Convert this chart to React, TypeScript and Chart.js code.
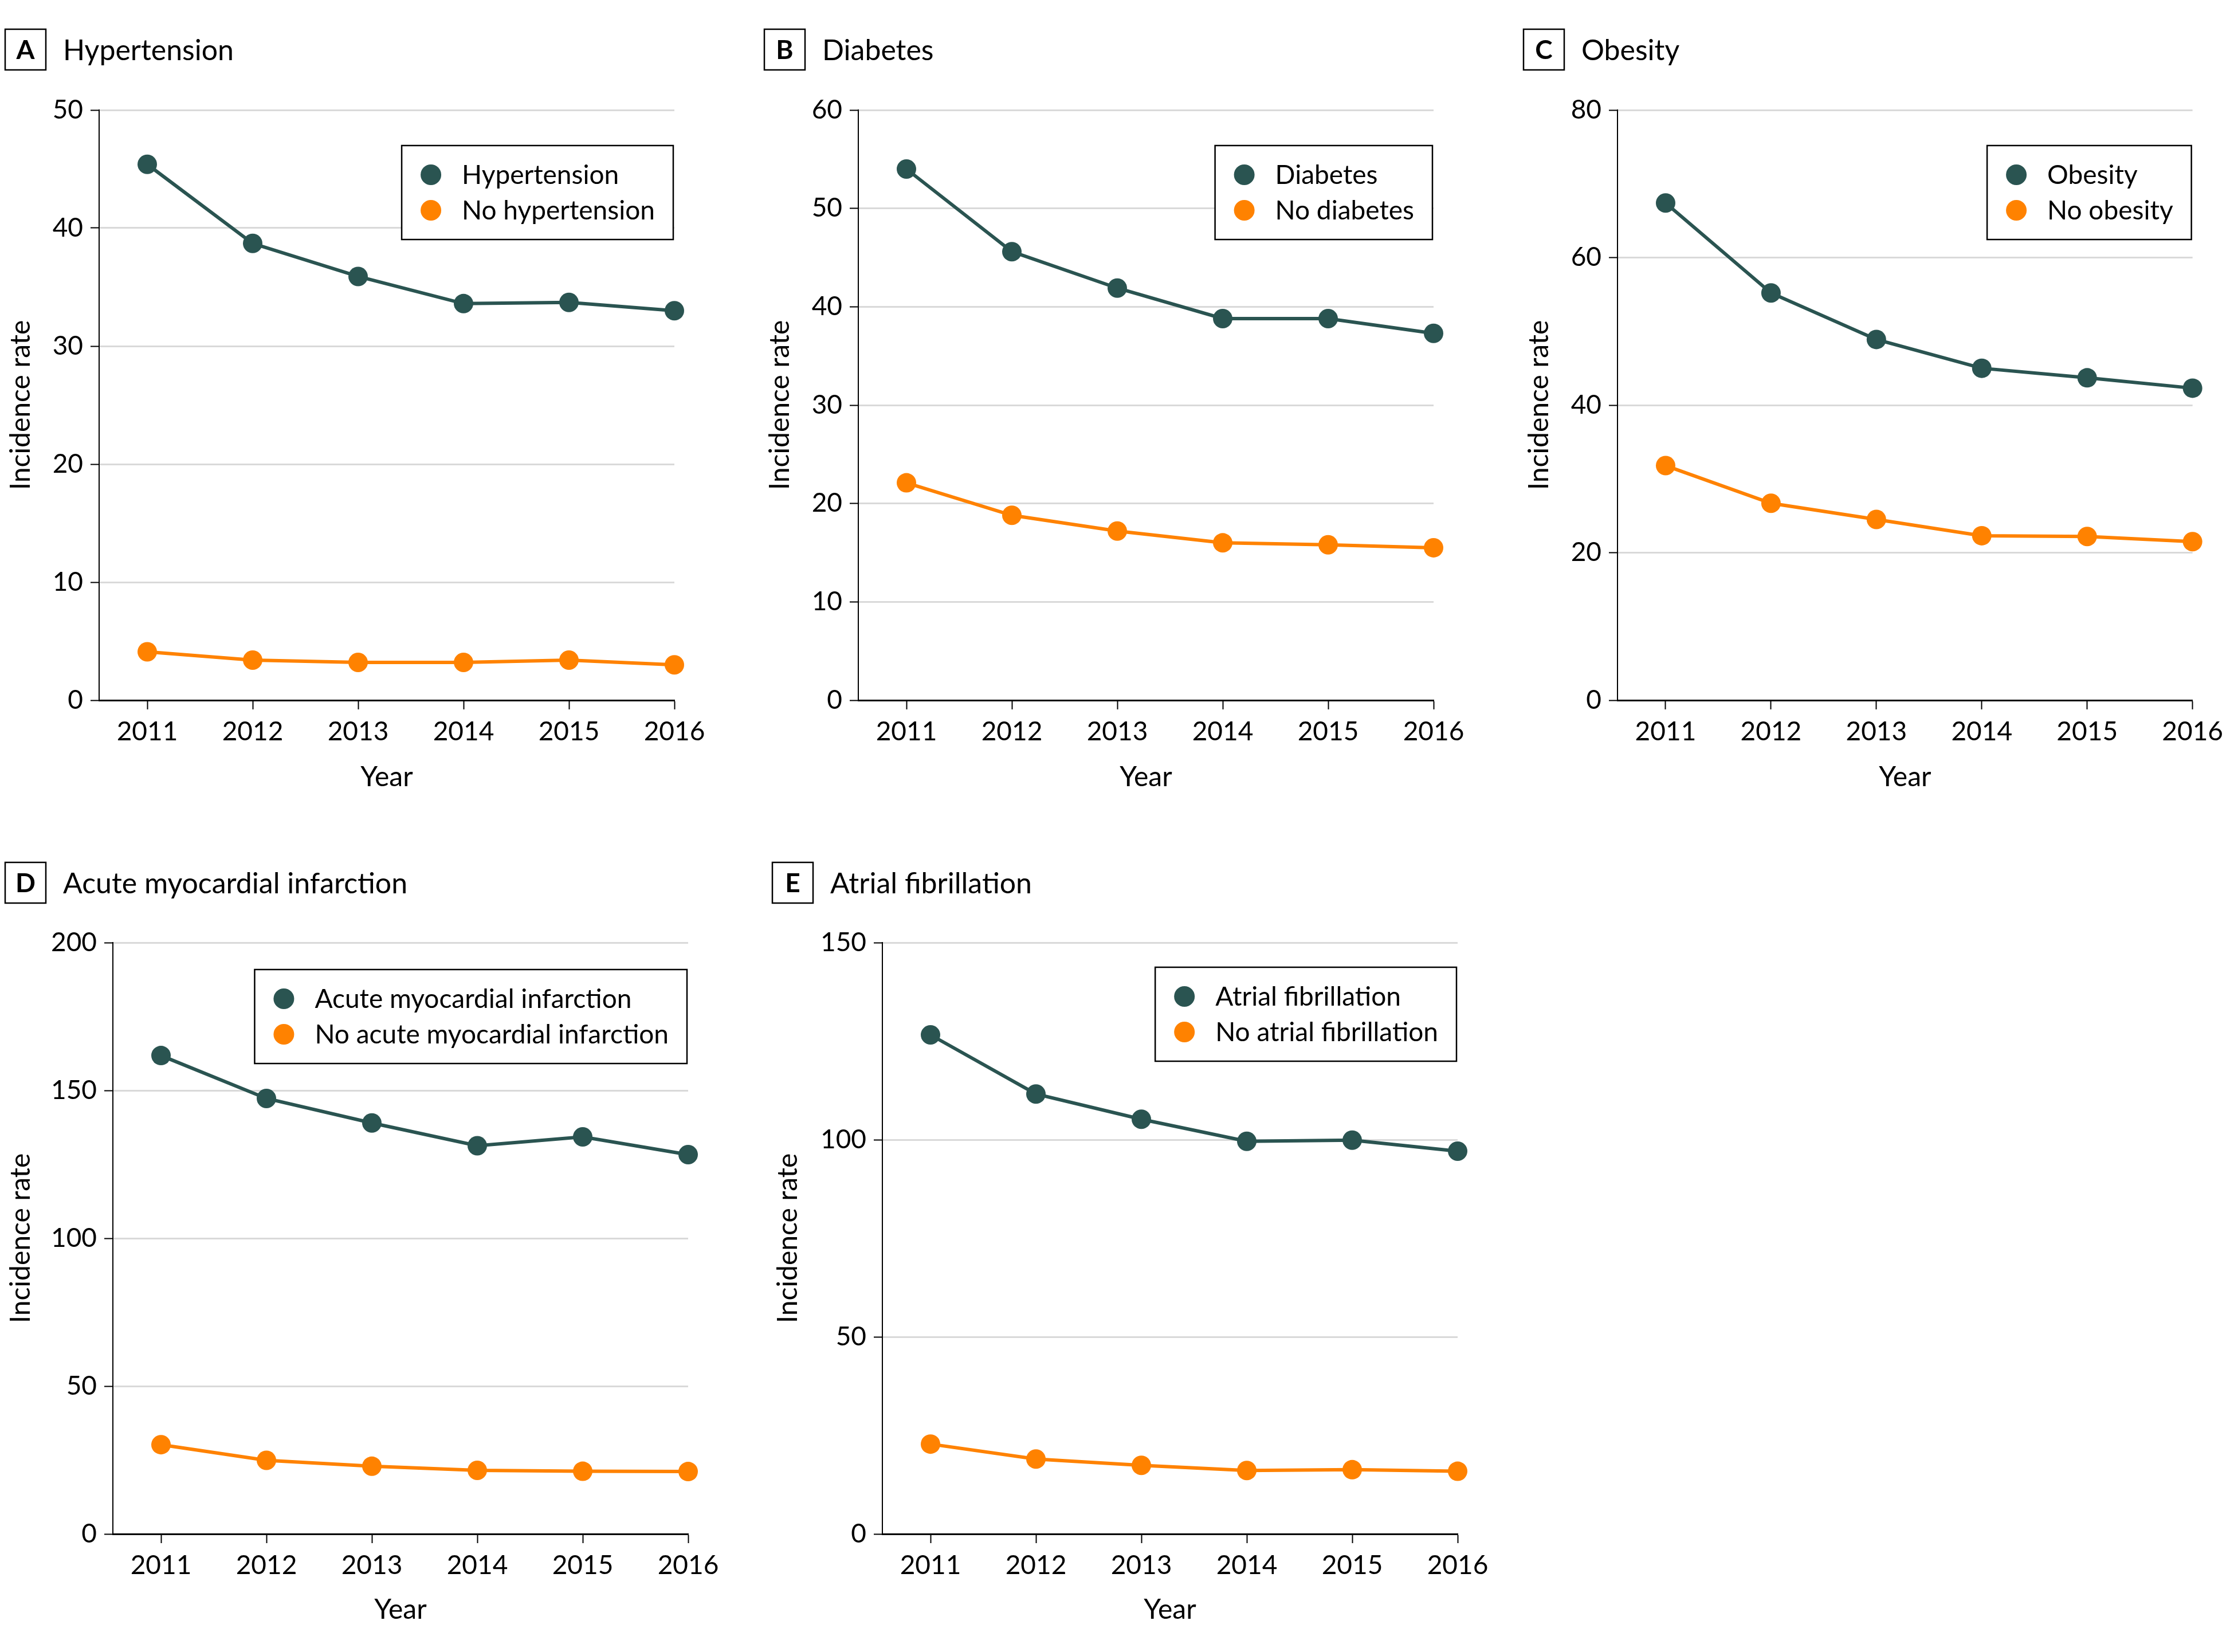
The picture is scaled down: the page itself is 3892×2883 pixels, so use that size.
import React, { useEffect, useRef } from 'react';
import { Chart, registerables } from 'chart.js';

Chart.register(...registerables);

// ---------- data ----------
const years = [2011, 2012, 2013, 2014, 2015, 2016];

const hypertension = [45.4, 38.7, 35.9, 33.6, 33.7, 33.0];
const noHypertension = [4.1, 3.4, 3.2, 3.2, 3.4, 3.0];

const diabetes = [54.0, 45.6, 41.9, 38.8, 38.8, 37.3];
const noDiabetes = [22.1, 18.8, 17.2, 16.0, 15.8, 15.5];

const obesity = [67.4, 55.2, 48.9, 45.0, 43.7, 42.3];
const noObesity = [31.8, 26.7, 24.5, 22.3, 22.2, 21.5];

const ami = [161.8, 147.3, 139.0, 131.3, 134.3, 128.3];
const noAmi = [30.2, 24.9, 22.9, 21.5, 21.2, 21.1];

const af = [126.6, 111.6, 105.2, 99.6, 99.9, 97.1];
const noAf = [22.8, 19.0, 17.4, 16.1, 16.3, 15.9];

const yTicksA = [0, 10, 20, 30, 40, 50];
const yTicksB = [0, 10, 20, 30, 40, 50, 60];
const yTicksC = [0, 20, 40, 60, 80];
const yTicksD = [0, 50, 100, 150, 200];
const yTicksE = [0, 50, 100, 150];

const xTitle = 'Year';
const yTitle = 'Incidence rate';

// ---------- style ----------
const FONT = 'Lato, "Noto Sans", sans-serif';
const DARK = '#2a5451';
const ORANGE = '#ff8200';
const GRID = '#d9d9d9';
const TICK_SIZE = 46;
const AXIS_TITLE_SIZE = 48;
const PLOT_W = 1004;
const X_MIN = 2011 - 84 / 184;

const decorPlugin = {
  id: 'panelDecor',
  afterDraw(chart: any, _args: any, opts: any) {
    const ctx = chart.ctx as CanvasRenderingContext2D;
    const ca = chart.chartArea;
    ctx.save();
    // header box + letter
    ctx.strokeStyle = '#000';
    ctx.lineWidth = 2.5;
    ctx.strokeRect(9, 51, 71, 71);
    ctx.fillStyle = '#000';
    ctx.font = `bold 46px ${FONT}`;
    ctx.textAlign = 'center';
    ctx.textBaseline = 'alphabetic';
    ctx.fillText(opts.letter, 44.5, 103);
    // title
    ctx.font = `50px ${FONT}`;
    ctx.textAlign = 'left';
    ctx.fillText(opts.title, 110, 105);

    // legend box
    const ds = chart.data.datasets;
    ctx.font = `${TICK_SIZE}px ${FONT}`;
    const tw = Math.max(...ds.map((d: any) => ctx.measureText(d.label).width));
    const boxW = 105 + tw + 32;
    const boxH = 164;
    const right = ca.right - 2;
    const left = right - boxW;
    const top = ca.top + opts.legendDy;
    ctx.fillStyle = '#fff';
    ctx.fillRect(left, top, boxW, boxH);
    ctx.strokeStyle = '#000';
    ctx.lineWidth = 2.5;
    ctx.strokeRect(left, top, boxW, boxH);
    ds.forEach((d: any, i: number) => {
      const cy = top + 51 + i * 62;
      ctx.beginPath();
      ctx.arc(left + 51, cy, 18, 0, Math.PI * 2);
      ctx.fillStyle = d.borderColor;
      ctx.fill();
      ctx.fillStyle = '#000';
      ctx.textBaseline = 'alphabetic';
      ctx.textAlign = 'left';
      ctx.fillText(d.label, left + 105, cy + 16);
    });
    ctx.restore();
  },
};

type PanelProps = {
  letter: string;
  title: string;
  labels: [string, string];
  series: [number[], number[]];
  yTicks: number[];
  left: number;
  top: number;
  width: number;
  height: number;
  yW: number;
  plotTop: number;
  plotBottom: number;
  legendDy: number;
  xTitleY: number;
};

function Panel(p: PanelProps) {
  const ref = useRef<HTMLCanvasElement | null>(null);
  useEffect(() => {
    if (!ref.current) return;
    const lh = AXIS_TITLE_SIZE * 1.2;
    const yMax = p.yTicks[p.yTicks.length - 1];
    const chart = new Chart(ref.current, {
      type: 'line',
      data: {
        datasets: [
          {
            label: p.labels[0],
            data: years.map((y, i) => ({ x: y, y: p.series[0][i] })),
            borderColor: DARK,
            backgroundColor: DARK,
            borderWidth: 6,
            pointRadius: 17,
            pointBorderWidth: 0,
            pointBackgroundColor: DARK,
            tension: 0,
            clip: false as any,
          },
          {
            label: p.labels[1],
            data: years.map((y, i) => ({ x: y, y: p.series[1][i] })),
            borderColor: ORANGE,
            backgroundColor: ORANGE,
            borderWidth: 6,
            pointRadius: 17,
            pointBorderWidth: 0,
            pointBackgroundColor: ORANGE,
            tension: 0,
            clip: false as any,
          },
        ],
      },
      options: {
        animation: false,
        responsive: true,
        maintainAspectRatio: false,
        devicePixelRatio: 1,
        layout: {
          padding: {
            left: 0,
            top: p.plotTop,
            bottom: 0,
            right: p.width - p.yW - PLOT_W,
          },
        },
        plugins: {
          legend: { display: false },
          tooltip: { enabled: false },
          panelDecor: { letter: p.letter, title: p.title, legendDy: p.legendDy },
        } as any,
        scales: {
          x: {
            type: 'linear',
            min: X_MIN,
            max: 2016,
            afterBuildTicks: (s: any) => {
              s.ticks = years.map((v) => ({ value: v }));
            },
            afterFit: (s: any) => {
              s.height = p.height - p.plotBottom;
            },
            ticks: {
              color: '#000',
              font: { family: FONT, size: TICK_SIZE },
              padding: 12,
              maxRotation: 0,
              autoSkip: false,
              callback: (v: any) => String(v),
            },
            grid: {
              drawOnChartArea: false,
              drawTicks: true,
              tickLength: 16,
              tickColor: '#000',
              tickWidth: 2,
            },
            border: { display: true, color: '#000', width: 3 },
            title: {
              display: true,
              text: xTitle,
              color: '#000',
              font: { family: FONT, size: AXIS_TITLE_SIZE },
              padding: { top: 0, bottom: p.height - p.xTitleY - lh / 2 },
            },
          },
          y: {
            type: 'linear',
            min: 0,
            max: yMax,
            afterBuildTicks: (s: any) => {
              s.ticks = p.yTicks.map((v) => ({ value: v }));
            },
            afterFit: (s: any) => {
              s.width = p.yW;
            },
            ticks: {
              color: '#000',
              font: { family: FONT, size: TICK_SIZE },
              padding: 13,
              callback: (v: any) => String(v),
            },
            grid: {
              color: (c: any) => (c.tick && c.tick.value === 0 ? 'rgba(0,0,0,0)' : GRID),
              lineWidth: 3,
              drawTicks: true,
              tickLength: 15,
              tickColor: '#000',
              tickWidth: 2,
            },
            border: { display: true, color: '#000', width: 2 },
            title: {
              display: true,
              text: yTitle,
              color: '#000',
              font: { family: FONT, size: AXIS_TITLE_SIZE },
              padding: { top: 37 - lh / 2, bottom: 0 },
            },
          },
        },
      },
      plugins: [decorPlugin as any],
    });
    return () => chart.destroy();
  }, []);
  return (
    <div
      style={{
        position: 'absolute',
        left: p.left,
        top: p.top,
        width: p.width,
        height: p.height,
      }}
    >
      <canvas ref={ref} />
    </div>
  );
}

export default function App() {
  const row1 = { top: 0, height: 1440, plotTop: 192, plotBottom: 1222, legendDy: 62, xTitleY: 1357 };
  const row2 = { top: 1454, height: 1429, plotTop: 191, plotBottom: 1223, xTitleY: 1356 };
  return (
    <div
      style={{
        position: 'absolute',
        left: 0,
        top: 0,
        width: 3892,
        height: 2883,
        background: '#fff',
        overflow: 'hidden',
      }}
    >
      <Panel
        letter="A"
        title="Hypertension"
        labels={['Hypertension', 'No hypertension']}
        series={[hypertension, noHypertension]}
        yTicks={yTicksA}
        left={0}
        width={1320}
        yW={173}
        {...row1}
      />
      <Panel
        letter="B"
        title="Diabetes"
        labels={['Diabetes', 'No diabetes']}
        series={[diabetes, noDiabetes]}
        yTicks={yTicksB}
        left={1325}
        width={1320}
        yW={173}
        {...row1}
      />
      <Panel
        letter="C"
        title="Obesity"
        labels={['Obesity', 'No obesity']}
        series={[obesity, noObesity]}
        yTicks={yTicksC}
        left={2650}
        width={1242}
        yW={173}
        {...row1}
      />
      <Panel
        letter="D"
        title="Acute myocardial infarction"
        labels={['Acute myocardial infarction', 'No acute myocardial infarction']}
        series={[ami, noAmi]}
        yTicks={yTicksD}
        left={0}
        width={1330}
        yW={197}
        legendDy={47}
        {...row2}
      />
      <Panel
        letter="E"
        title="Atrial fibrillation"
        labels={['Atrial fibrillation', 'No atrial fibrillation']}
        series={[af, noAf]}
        yTicks={yTicksE}
        left={1339}
        width={1361}
        yW={201}
        legendDy={43}
        {...row2}
      />
    </div>
  );
}
